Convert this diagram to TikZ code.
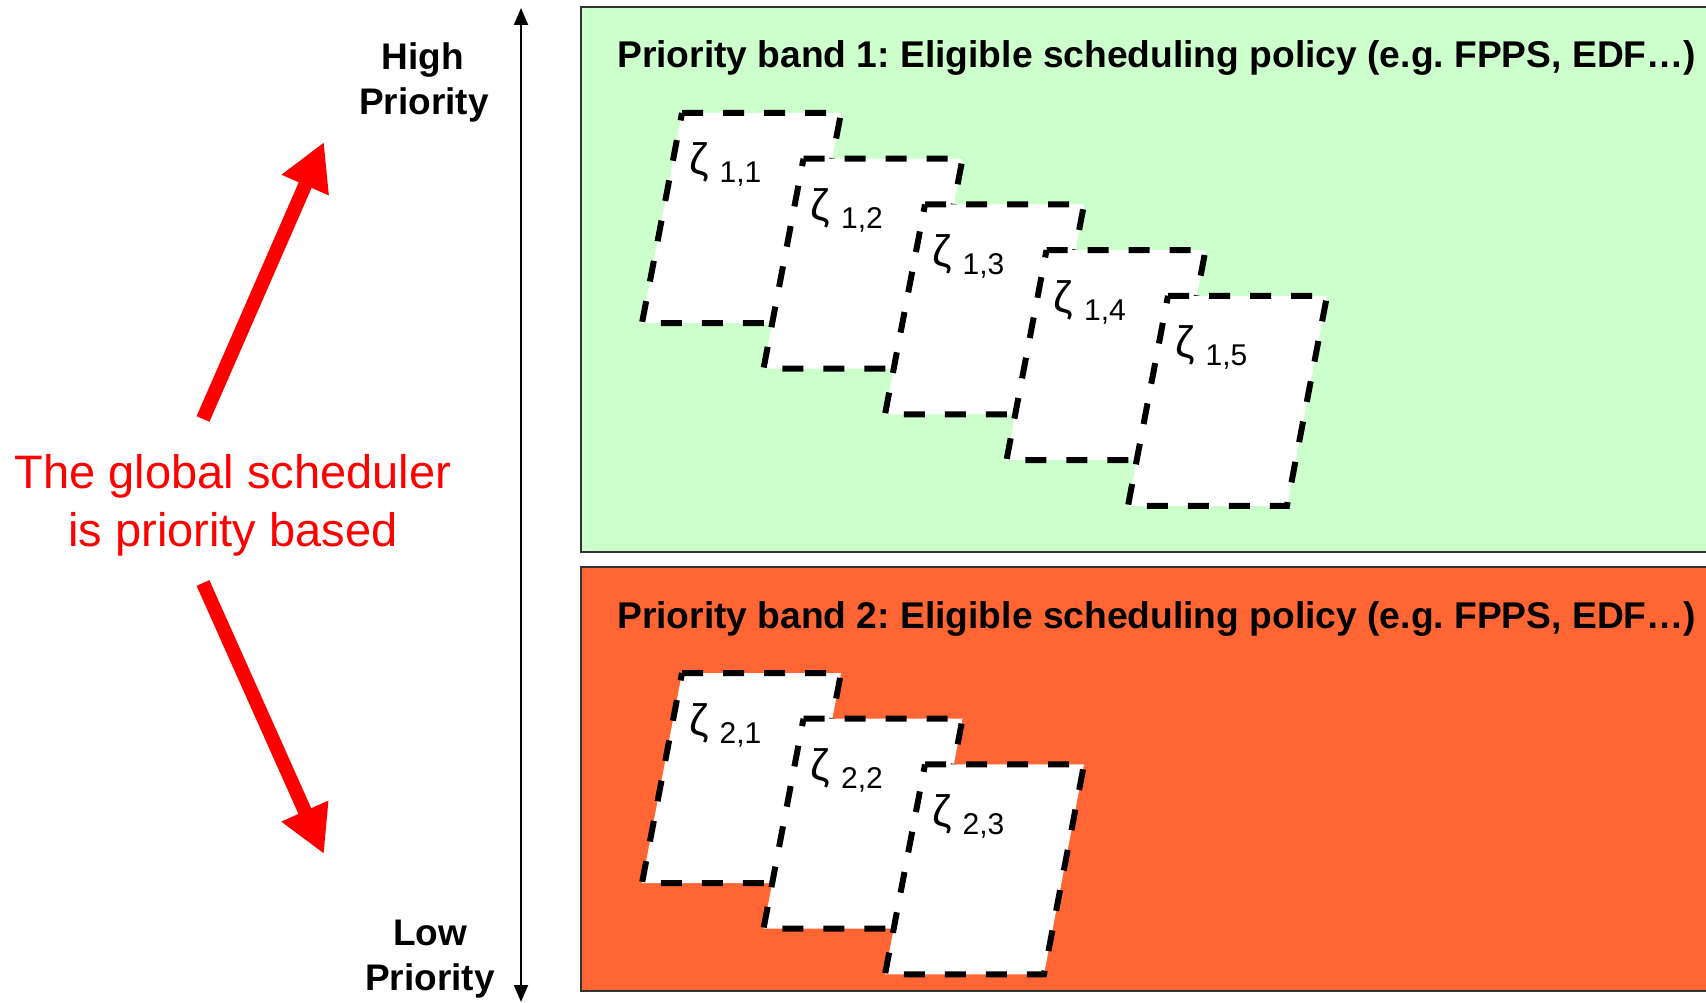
\documentclass[tikz,border=0pt]{standalone}
\usepackage{fontspec}
\setmainfont{Liberation Sans}
\usetikzlibrary{arrows.meta}
\definecolor{bandgreen}{HTML}{CCFFCC}
\definecolor{bandred}{HTML}{FF6633}
\definecolor{alertred}{HTML}{FF0000}
\newcommand{\tasklab}[1]{{\fontsize{44}{44}\selectfont\raisebox{8pt}{ζ}}\hspace{11pt}{\fontsize{30}{30}\selectfont #1}}
\frenchspacing
\begin{document}
\begin{tikzpicture}[x=1pt,y=-1pt,
  band/.style={draw=black!80, line width=2pt},
  task/.style={draw=black, fill=white, line width=6pt, dash pattern=on 21pt off 20pt},
  tasklabel/.style={anchor=base west, inner sep=0pt},
  bandtitle/.style={anchor=base west, inner sep=0pt, font=\fontsize{37.2}{44}\selectfont\bfseries},
  prio/.style={anchor=base, inner sep=0pt, font=\fontsize{37}{44}\selectfont\bfseries},
  redtext/.style={anchor=base, inner sep=0pt, text=alertred, font=\fontsize{47}{56}\selectfont},
  bigarrow/.style={draw=alertred, line width=14pt, -{Triangle[length=47pt,width=48pt]}},
  axisarrow/.style={line width=2pt, {Triangle[length=17pt,width=14pt]}-{Triangle[length=17pt,width=14pt]}}
]
\useasboundingbox (0,0) rectangle (1706,1003);
\clip (0,0) rectangle (1706,1003);

% priority bands
\draw[band, fill=bandgreen] (581,7) rectangle (1730,552);
\node[bandtitle] (t1) at (617,68) {Priority band 1: Eligible scheduling policy (e.g. FPPS, EDF…)};
\draw[band, fill=bandred] (581,567) rectangle (1730,991);
\node[bandtitle] (t2) at (617,628) {Priority band 2: Eligible scheduling policy (e.g. FPPS, EDF…)};

% tasks of band 1
\foreach \k in {1,...,5} {
  \pgfmathsetmacro\tx{682+121.5*(\k-1)}
  \pgfmathsetmacro\ty{113+45.7*(\k-1)}
  \draw[task] (\tx,\ty) -- ++(159,0) -- ++(-40,210) -- ++(-159,0) -- cycle;
  \node[tasklabel] (za\k) at (\tx+7,\ty+70) {\tasklab{1,\k}};
}
% tasks of band 2
\foreach \k in {1,...,3} {
  \pgfmathsetmacro\tx{682+121.5*(\k-1)}
  \pgfmathsetmacro\ty{673+45.7*(\k-1)}
  \draw[task] (\tx,\ty) -- ++(159,0) -- ++(-40,210) -- ++(-159,0) -- cycle;
  \node[tasklabel] (zb\k) at (\tx+7,\ty+70) {\tasklab{2,\k}};
}

% priority axis
\coordinate (ax0) at (521,1002);
\coordinate (ax1) at (521,8);
\draw[axisarrow] (ax0) -- (ax1);
\node[prio] (hi1) at (423,70) {High};
\node[prio] (hi2) at (424,115) {Priority};
\node[prio] (lo1) at (430,945) {Low};
\node[prio] (lo2) at (430,990) {Priority};

% global scheduler
\node[redtext] (gs1) at (233,488) {The global scheduler};
\node[redtext] (gs2) at (233,546) {is priority based};
\coordinate (ua0) at (203,419);
\coordinate (ua1) at (324,142);
\draw[bigarrow] (ua0) -- (ua1);
\coordinate (la0) at (203,583);
\coordinate (la1) at (324,854);
\draw[bigarrow] (la0) -- (la1);
\end{tikzpicture}
\end{document}
